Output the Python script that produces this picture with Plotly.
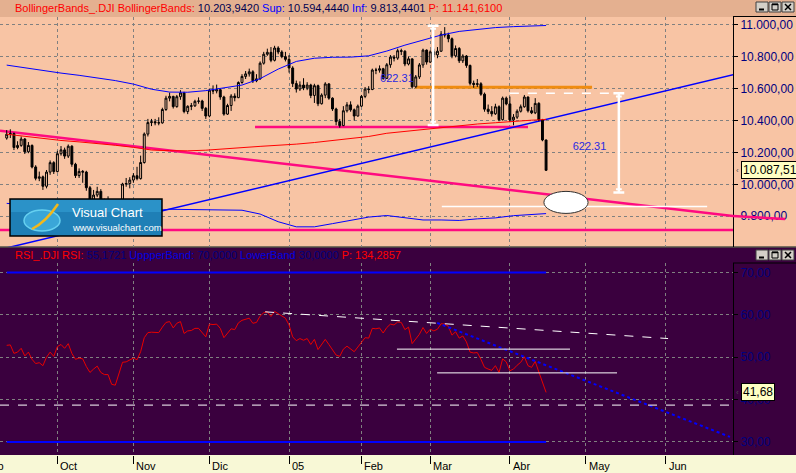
import plotly.graph_objects as go

# ---------------- data ----------------
opens = [10290,10314,10318,10231,10244,10284,10204,10244,10109,10038,10047,9988,10077,10136,
         10080,10192,10216,10177,10239,10126,10055,10081,10077,9979,9894,9933,9956,9886,9865,9866,9758,9750,9888,10002,10005,
         10027,10054,10036,10137,10315,10387,10392,10386,10385,10469,10540,10551,10487,10549,10573,10456,10489,10492,10520,10522,10476,
         10428,10590,10585,10593,10547,10440,10494,10553,10543,10638,10676,10692,10705,10649,10661,10759,10815,10827,10777,10854,10829,10800,
         10783,10729,10631,10597,10622,10604,10622,10557,10618,10505,10559,10629,10540,10472,10393,10368,10461,10498,10467,10428,
         10490,10551,10597,10594,10716,10715,10724,10664,10749,10797,10791,10837,10834,10754,10786,10611,10673,10748,10841,
         10766,10830,10811,10834,10941,10936,10912,10805,10851,10774,10804,10745,10633,10626,10630,10565,10471,10457,10442,10486,10405,10540,
         10504,10404,10421,10458,10486,10547,10461,10448,10507,10403,10278]
highs = [10340,10345,10325,10270,10300,10290,10265,10250,10120,10080,10055,10090,10150,10145,
         10210,10240,10230,10250,10245,10135,10100,10090,10085,9990,9965,9985,9970,9910,9925,9880,9780,9895,10010,10040,10045,
         10070,10110,10180,10325,10410,10410,10410,10420,10480,10555,10575,10555,10560,10590,10580,10495,10510,10530,10545,10530,10485,
         10600,10620,10625,10600,10555,10505,10565,10570,10645,10690,10710,10725,10715,10690,10770,10830,10850,10860,10868,10865,10840,10830,
         10810,10740,10650,10645,10665,10640,10630,10630,10625,10570,10640,10635,10545,10480,10410,10490,10515,10520,10475,10500,
         10560,10610,10615,10725,10730,10745,10730,10760,10810,10810,10850,10850,10840,10800,10790,10685,10760,10850,10845,
         10840,10850,10860,10960,10985,10950,10920,10870,10860,10815,10810,10750,10650,10660,10640,10575,10500,10490,10505,10495,10550,10550,
         10550,10440,10470,10500,10560,10550,10485,10540,10515,10410,10280]
lows = [10280,10290,10215,10220,10235,10190,10195,10100,10025,10020,9965,9975,10060,10065,
        10075,10180,10160,10165,10110,10040,10040,10010,9960,9880,9880,9920,9870,9840,9850,9745,9710,9740,9870,9985,9975,
        10010,10025,10030,10130,10300,10365,10370,10370,10380,10460,10520,10475,10480,10530,10445,10440,10465,10485,10505,10460,10410,
        10420,10565,10570,10530,10430,10435,10460,10520,10540,10630,10660,10675,10635,10640,10655,10750,10805,10765,10770,10815,10790,10770,
        10700,10610,10575,10585,10590,10590,10540,10510,10490,10500,10540,10530,10460,10370,10355,10365,10450,10455,10400,10425,
        10485,10540,10570,10590,10690,10700,10655,10660,10730,10770,10780,10810,10740,10745,10600,10605,10660,10730,10750,
        10760,10795,10790,10830,10920,10890,10790,10795,10760,10760,10730,10620,10605,10610,10555,10455,10440,10425,10435,10395,10400,10495,
        10390,10370,10410,10450,10480,10450,10440,10440,10395,10270,10085]
closes = [10314,10318,10231,10244,10284,10204,10244,10109,10038,10047,9988,10077,10136,10080,
          10192,10216,10177,10239,10126,10055,10081,10077,9979,9894,9933,9956,9886,9865,9866,9758,9750,9888,10002,10005,10027,
          10054,10036,10137,10315,10387,10392,10386,10385,10469,10540,10551,10487,10549,10573,10456,10489,10492,10520,10522,10476,10428,
          10590,10585,10593,10547,10440,10494,10553,10543,10638,10676,10692,10705,10649,10661,10759,10815,10827,10777,10854,10829,10800,10783,
          10729,10631,10597,10622,10604,10622,10557,10618,10505,10559,10629,10540,10472,10393,10368,10461,10498,10467,10428,10490,
          10551,10597,10594,10716,10715,10724,10664,10749,10797,10791,10837,10834,10754,10786,10611,10673,10748,10841,10766,
          10830,10811,10834,10941,10936,10912,10805,10851,10774,10804,10745,10633,10626,10630,10565,10471,10457,10442,10486,10405,10540,10504,
          10404,10421,10458,10486,10547,10461,10448,10507,10403,10278,10088]
rsi = [52.8,52.9,50.9,51.2,52.1,50.3,51.2,49.5,48.5,48.7,48.0,50.0,51.2,50.2,
       52.5,53.0,52.1,53.2,50.9,49.5,49.8,49.6,47.8,46.4,47.2,47.9,46.4,45.9,45.9,43.6,43.4,46.4,48.8,48.9,49.3,
       49.8,49.4,51.3,54.6,55.8,55.9,55.8,55.8,57.1,58.2,58.4,56.9,58.0,58.4,55.6,56.2,56.3,56.8,56.8,55.8,54.8,
       57.8,57.7,57.8,56.8,54.6,55.6,56.7,56.5,58.1,58.7,59.0,59.2,58.0,58.2,59.7,60.5,60.7,59.6,60.8,60.2,59.6,59.2,
       57.6,54.8,53.9,54.4,54.0,54.4,53.0,54.2,51.8,52.9,54.2,53.0,51.8,50.5,50.2,51.9,52.6,52.0,51.3,52.4,
       53.6,54.6,54.5,56.8,56.7,56.9,55.7,57.0,57.8,57.6,58.3,58.2,56.5,57.1,53.2,54.3,55.4,57.0,55.6,
       56.6,56.2,56.6,57.9,57.8,57.3,55.2,56.0,54.5,55.0,53.6,51.2,51.0,51.1,49.5,47.6,47.2,46.9,48.0,46.4,49.6,48.9,
       46.8,47.2,48.1,48.8,50.1,48.0,47.6,49.0,46.5,44.2,41.7]

band_idx = [0,5,10,15,20,25,30,35,40,45,50,55,60,65,70,75,80,85,90,95,100,105,110,115,120,125,130,135,140,145,149]
bb_mid = [10314,10300,10287,10275,10266,10257,10245,10232,10215,10211,10210,10214,10220,10230,10238,10244,
          10252,10262,10275,10285,10300,10320,10332,10341,10356,10366,10378,10386,10396,10402,10406]
bb_up = [10747,10730,10712,10697,10683,10667,10650,10628,10596,10578,10577,10587,10603,10622,10662,10722,
         10770,10790,10796,10797,10805,10835,10872,10905,10935,10958,10972,10982,10988,10993,10995]
bb_low = [9881,9870,9862,9853,9849,9847,9840,9836,9834,9844,9843,9841,9837,9838,9814,9766,
          9734,9734,9754,9773,9795,9805,9792,9777,9777,9774,9784,9790,9804,9811,9817]

rsi_upper_band = 70
rsi_lower_band = 30

month_ticks = [14, 35, 56, 78, 98, 117, 139, 160, 182]
month_labels = ["Oct", "Nov", "Dic", "05", "Feb", "Mar", "Abr", "May", "Jun"]
price_ticks = [9800, 10000, 10200, 10400, 10600, 10800, 11000]
price_labels = ["9.800,00", "10.000,00", "10.200,00", "10.400,00", "10.600,00", "10.800,00", "11.000,00"]
rsi_ticks = [30, 40, 50, 60, 70]
rsi_labels = ["30,00", "40,00", "50,00", "60,00", "70,00"]
last_price_label = "10.087,51"
last_price = 10087.51
last_rsi_label = "41,68"
last_rsi = 41.68
measure_text = "622.31"

# user drawings (day index, value)
measure1 = (117.8, 10994.0, 10371.7)
measure2 = (169.1, 10571.0, 9948.7)
orange_level = (112.8, 161.7, 10609)
pink_level = (68.6, 144.0, 10360)
pink_support = 9714
pink_trend = ((-1.85, 10336), (200.64, 9802))
blue_trend = ((-1.85, 9592), (201.2, 10689))
white_level = (120.2, 193.5, 9862)
white_dash_level = (139.0, 168.0, 10571)
ellipse_box = (148.4, 160.6, 9818, 9956)
rsi_white_trend = ((71.4, 60.7), (182.7, 54.4))
rsi_blue_trend = ((118.9, 58.1), (199.8, 31.2))
rsi_level1 = (107.8, 155.6, 51.9)
rsi_level2 = (118.9, 168.6, 46.3)
rsi_level3 = 38.7

# ---------------- layout helpers ----------------
W, H = 796, 473
MR, MT, MB = 63, 17, 18
PW, PH = W - MR, H - MT - MB
def px(p): return p / PW
def py(p): return (H - MB - p) / PH

X0 = -1.851
X1 = X0 + PW / 3.62
FONT = "Liberation Sans, Arial, sans-serif"
PEACH = "#F8C4A4"
HEAD = "#E4B090"
PURPLE = "#3A003E"
YELLOW = "#F8F8D6"
PINK = "#FF0A80"
days = list(range(len(closes)))

fig = go.Figure()

# measurement labels (drawn beneath candles)
fig.add_trace(go.Scatter(x=[107.8, 161.0], y=[10656, 10232], mode="text", text=[measure_text, measure_text],
                         textfont=dict(color="#2a2ae0", size=11, family=FONT), yaxis="y", hoverinfo="skip"))

fig.add_trace(go.Candlestick(x=days, open=opens, high=highs, low=lows, close=closes, yaxis="y",
                             increasing=dict(line=dict(color="black", width=1), fillcolor=PEACH),
                             decreasing=dict(line=dict(color="black", width=1), fillcolor="black"),
                             whiskerwidth=0, hoverinfo="skip"))
fig.add_trace(go.Scatter(x=band_idx, y=bb_up, mode="lines", line=dict(color="#0000ff", width=1), yaxis="y"))
fig.add_trace(go.Scatter(x=band_idx, y=bb_low, mode="lines", line=dict(color="#0000ff", width=1), yaxis="y"))
fig.add_trace(go.Scatter(x=band_idx, y=bb_mid, mode="lines", line=dict(color="#ff0000", width=1), yaxis="y"))

# RSI panel
fig.add_trace(go.Scatter(x=[days[0], days[-1]], y=[rsi_upper_band] * 2, mode="lines",
                         line=dict(color="#0000ff", width=2), yaxis="y2"))
fig.add_trace(go.Scatter(x=[days[0], days[-1]], y=[rsi_lower_band] * 2, mode="lines",
                         line=dict(color="#0000ff", width=2), yaxis="y2"))
fig.add_trace(go.Scatter(x=days, y=rsi, mode="lines", line=dict(color="#e80000", width=1), yaxis="y2"))

shapes = []
def rect_px(x0, y0, x1, y1, fill, line=None, lw=0, layer="below"):
    shapes.append(dict(type="rect", xref="paper", yref="paper", x0=px(x0), x1=px(x1), y0=py(y1), y1=py(y0),
                       fillcolor=fill, line=dict(color=line or fill, width=lw), layer=layer))
def line_px(x0, y0, x1, y1, color, lw, layer="above"):
    shapes.append(dict(type="line", xref="paper", yref="paper", x0=px(x0), x1=px(x1), y0=py(y0), y1=py(y1),
                       line=dict(color=color, width=lw), layer=layer))
def seg(x0, y0, x1, y1, color, lw, dash="solid", yref="y", layer="above"):
    shapes.append(dict(type="line", xref="x", yref=yref, x0=x0, y0=y0, x1=x1, y1=y1,
                       line=dict(color=color, width=lw, dash=dash), layer=layer))

# backgrounds
rect_px(0, 0, W, 17, HEAD)
rect_px(0, 17, W, 246.5, PEACH)
rect_px(0, 247.5, W, H - MB, PURPLE)
line_px(0, 247, W, 247, "black", 1.2, layer="below")
line_px(PW, 16.5, W, 16.5, "black", 1)
line_px(PW, 263, W, 263, "black", 1)

# top panel drawings
seg(pink_trend[0][0], pink_trend[0][1], pink_trend[1][0], pink_trend[1][1], PINK, 2.5, layer="between")
shapes.append(dict(type="line", xref="paper", yref="y", x0=1.0, x1=px(785), y0=pink_trend[1][1], y1=9783,
                   line=dict(color=PINK, width=2.5)))
seg(X0, pink_support, X1, pink_support, PINK, 2.5, layer="between")
seg(pink_level[0], pink_level[2], pink_level[1], pink_level[2], PINK, 2.5, layer="between")
seg(orange_level[0], orange_level[2], orange_level[1], orange_level[2], "#f08c10", 3, layer="between")
seg(blue_trend[0][0], blue_trend[0][1], blue_trend[1][0], blue_trend[1][1], "#0000ff", 1.5, layer="between")
seg(white_level[0], white_level[2], white_level[1], white_level[2], "white", 1.5)
seg(white_dash_level[0], white_dash_level[2], white_dash_level[1], white_dash_level[2], "white", 1.5, dash="dash")
for (mx, top, bot) in (measure1, measure2):
    seg(mx, top, mx, bot, "white", 2.5)
    for yv, sgn in ((top, -1), (bot, 1)):
        seg(mx - 1.5, yv, mx + 1.5, yv, "white", 2.5)
        seg(mx - 0.8, yv + sgn * 20, mx + 0.8, yv + sgn * 20, "white", 2)
shapes.append(dict(type="circle", xref="x", yref="y", x0=ellipse_box[0], x1=ellipse_box[1],
                   y0=ellipse_box[2], y1=ellipse_box[3], fillcolor="white", line=dict(color="#303030", width=1)))

# RSI drawings
seg(rsi_white_trend[0][0], rsi_white_trend[0][1], rsi_white_trend[1][0], rsi_white_trend[1][1], "white", 1, dash="dash", yref="y2")
seg(rsi_blue_trend[0][0], rsi_blue_trend[0][1], rsi_blue_trend[1][0], rsi_blue_trend[1][1], "#0000ff", 2, dash="dot", yref="y2")
seg(rsi_level1[0], rsi_level1[2], rsi_level1[1], rsi_level1[2], "white", 1, yref="y2")
seg(rsi_level2[0], rsi_level2[2], rsi_level2[1], rsi_level2[2], "white", 1, yref="y2")
seg(X0, rsi_level3, X1, rsi_level3, "white", 1, dash="dash", yref="y2")

# logo
rect_px(10, 199, 162, 236, "#1f7fb6", "black", 1.5, layer="above")
rect_px(11, 200, 161, 212, "#2b92c8", None, 0, layer="above")
shapes.append(dict(type="circle", xref="paper", yref="paper", x0=px(24), x1=px(60), y0=py(231), y1=py(210),
                   fillcolor="#3aa6d8", line=dict(color="#66d0f0", width=1.5), layer="above"))
shapes.append(dict(type="path", xref="paper", yref="paper",
                   path=f"M {px(32)},{py(229)} Q {px(46)},{py(222)} {px(58)},{py(204)}",
                   line=dict(color="#f2b81c", width=2.5), layer="above"))

# window buttons
for by in (2, 250):
    for k, bx in enumerate((756, 769, 782)):
        rect_px(bx, by, bx + 12, by + 10, "#d4d0c8", "#404040", 1, layer="above")
        if k == 0:
            line_px(bx + 3, by + 7.5, bx + 8, by + 7.5, "black", 2)
        elif k == 1:
            shapes.append(dict(type="rect", xref="paper", yref="paper", x0=px(bx + 3), x1=px(bx + 9),
                               y0=py(by + 8), y1=py(by + 2), line=dict(color="black", width=1), layer="above"))
            line_px(bx + 3, by + 2.5, bx + 9, by + 2.5, "black", 1.5)
        else:
            line_px(bx + 3, by + 2, bx + 9, by + 8, "black", 1.5)
            line_px(bx + 3, by + 8, bx + 9, by + 2, "black", 1.5)

ann = []
def span(txt, col): return f'<span style="color:{col}">{txt}</span>'
top_header = " ".join([span("BollingerBands_.DJI BollingerBands:", "#ff0000"), span("10.203,9420", "#000050"),
                       span("Sup:", "#0000ff"), span("10.594,4440", "#000050"), span("Inf:", "#0000ff"),
                       span("9.813,4401", "#000050"), span("P: 11.141,6100", "#ff0000")])
rsi_header = " ".join([span("RSI_.DJI RSI:", "#ff0000"), span("55,1721", "#000080"), span("UppperBand:", "#0000e0"),
                       span("70,0000", "#000080"), span("LowerBand", "#0000e0"), span("30,0000", "#000080"),
                       span("P: 134,2857", "#ff0000")])
ann.append(dict(text=top_header, xref="paper", yref="paper", x=px(13), y=py(8), xanchor="left", yanchor="middle",
                showarrow=False, font=dict(size=11, family=FONT)))
ann.append(dict(text=rsi_header, xref="paper", yref="paper", x=px(13), y=py(255), xanchor="left", yanchor="middle",
                showarrow=False, font=dict(size=11, family=FONT)))
for t, lab in zip(month_ticks, month_labels):
    ann.append(dict(text=lab, xref="x", yref="paper", x=t, y=py(466), xanchor="left", yanchor="middle", xshift=1,
                    showarrow=False, font=dict(size=11, family=FONT, color="black")))
ann.append(dict(text="Sep", xref="paper", yref="paper", x=px(6), y=py(466), xanchor="right", yanchor="middle",
                showarrow=False, font=dict(size=11, family=FONT, color="black")))
ann.append(dict(text=last_price_label, xref="paper", yref="y", x=px(741), y=last_price, xanchor="left", yanchor="middle",
                showarrow=False, bgcolor="#ffffc4", bordercolor="black", borderwidth=1, borderpad=1,
                font=dict(size=12, family=FONT, color="black")))
ann.append(dict(text=last_rsi_label, xref="paper", yref="y2", x=px(741), y=last_rsi, xanchor="left", yanchor="middle",
                showarrow=False, bgcolor="#ffffc4", bordercolor="black", borderwidth=1, borderpad=1,
                font=dict(size=12, family=FONT, color="black")))
for yr, yv in (("y", last_price), ("y2", last_rsi)):
    ann.append(dict(text="‹", xref="paper", yref=yr, x=px(734), y=yv, xanchor="left", yanchor="middle",
                    showarrow=False, font=dict(size=8, family=FONT, color="#505050")))
ann.append(dict(text="Visual Chart", xref="paper", yref="paper", x=px(70), y=py(212), xanchor="left", yanchor="middle",
                showarrow=False, font=dict(size=13, family=FONT, color="white")))
ann.append(dict(text="www.visualchart.com", xref="paper", yref="paper", x=px(70), y=py(227.5), xanchor="left",
                yanchor="middle", showarrow=False, font=dict(size=9.5, family=FONT, color="white")))

grid = dict(showgrid=True, gridcolor="#808080", griddash="dot", gridwidth=1, zeroline=False)
fig.update_layout(
    width=W, height=H, margin=dict(l=0, r=MR, t=MT, b=MB, pad=0),
    paper_bgcolor=YELLOW, plot_bgcolor="rgba(0,0,0,0)", showlegend=False, hovermode=False,
    xaxis=dict(range=[X0, X1], tickvals=month_ticks, showticklabels=False, ticks="outside", ticklen=8,
               tickcolor="black", anchor="y2", rangeslider=dict(visible=False), **grid),
    yaxis=dict(domain=[py(246.5), 1], range=[9610.8, 11048.3], side="right", anchor="x", tickvals=price_ticks,
               ticktext=price_labels, ticks="outside", ticklen=4, tickcolor="black", showline=True,
               linecolor="black", linewidth=1, tickfont=dict(size=12, family=FONT, color="#000080"), **grid),
    yaxis2=dict(domain=[0, py(263)], range=[26.93, 72.22], side="right", anchor="x", tickvals=rsi_ticks,
                ticktext=rsi_labels, ticks="outside", ticklen=4, tickcolor="black", showline=True,
                linecolor="black", linewidth=1, tickfont=dict(size=12, family=FONT, color="#000080"), **grid),
    shapes=shapes, annotations=ann, boxgap=0.25,
)
fig.write_html("out.html", config={"displayModeBar": False},
               post_script="document.body.style.margin='0';document.body.style.overflow='hidden';")
